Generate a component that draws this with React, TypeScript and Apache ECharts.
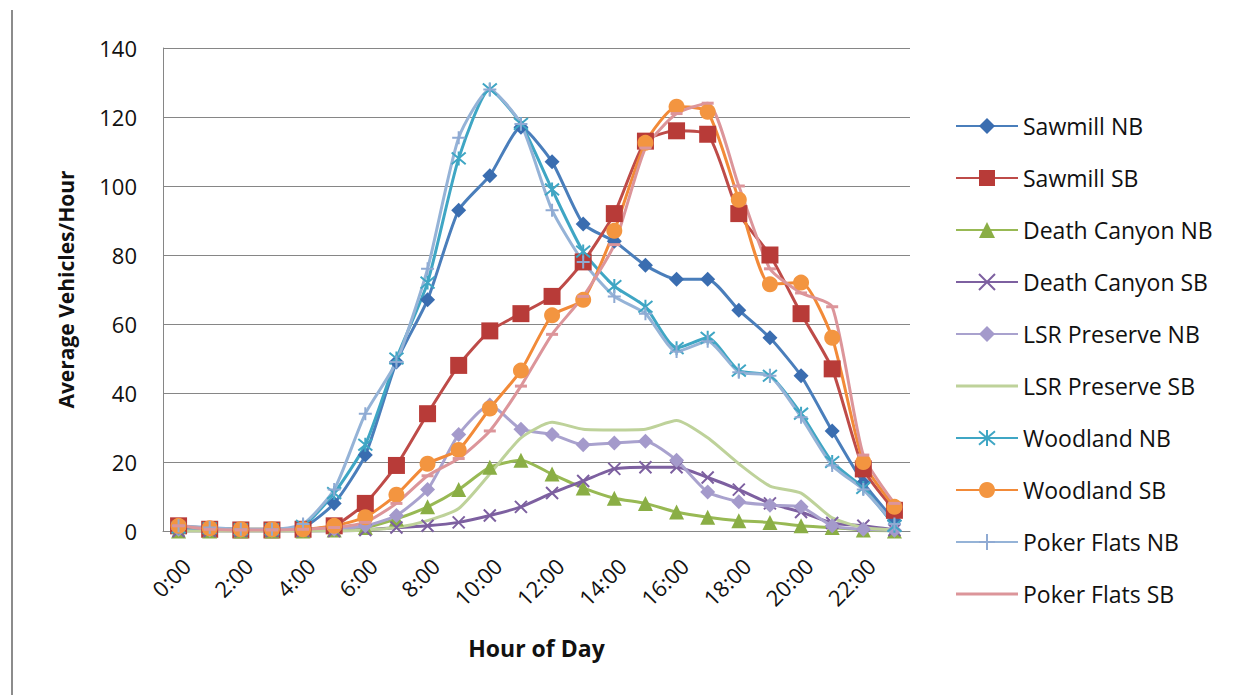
import React, { useEffect, useRef } from "react";
import * as echarts from "echarts";

const hours = ["0:00","1:00","2:00","3:00","4:00","5:00","6:00","7:00","8:00","9:00","10:00","11:00","12:00","13:00","14:00","15:00","16:00","17:00","18:00","19:00","20:00","21:00","22:00","23:00"];

const sawmillNB = [1, 0.5, 0.3, 0.3, 1, 8, 22, 49, 67, 93, 103, 117, 107, 89, 84, 77, 73, 73, 64, 56, 45, 29, 14, 3];
const sawmillSB = [1.5, 0.5, 0.3, 0.3, 0.5, 1.5, 8, 19, 34, 48, 58, 63, 68, 78, 92, 113, 116, 115, 92, 80, 63, 47, 18, 6];
const deathCanyonNB = [0, 0, 0, 0, 0, 0.3, 1, 3.5, 7, 12, 18.5, 20.5, 16.5, 12.5, 9.5, 8, 5.5, 4, 3, 2.5, 1.5, 1, 0.3, 0];
const deathCanyonSB = [0, 0, 0, 0, 0, 0, 0.3, 1, 1.5, 2.5, 4.5, 7, 11, 14.5, 18, 18.5, 18.5, 15.5, 12, 8, 5.5, 2.3, 1.5, 0.3];
const lsrNB = [0.5, 0.3, 0.2, 0.2, 0.3, 0.5, 1.5, 4.5, 12, 28, 36.5, 29.5, 28, 25, 25.5, 26, 20.5, 11.3, 8.5, 7.5, 7, 1.5, 0.5, 0.2];
const lsrSB = [0, 0, 0, 0, 0, 0, 0.3, 1, 3, 6.5, 16.5, 27, 31.5, 29.5, 29.3, 29.5, 32, 27, 19.5, 13, 11, 3.8, 1, 0.3];
const woodlandNB = [1, 0.8, 0.5, 0.5, 1.5, 11, 25, 50, 72, 108, 128, 118, 99, 81, 71, 65, 53, 56, 46.5, 45, 34, 20, 12.5, 1.5];
const woodlandSB = [1.5, 0.8, 0.5, 0.5, 0.5, 1.5, 4, 10.5, 19.5, 23.5, 35.5, 46.5, 62.5, 67, 87, 112.5, 123, 121.5, 96, 71.5, 72, 56, 20, 7];
const pokerNB = [1.5, 1, 0.5, 0.5, 2, 12, 34, 49, 76, 114, 128, 118, 93, 78, 68, 63, 52, 55, 46, 45, 33, 19, 12, 2];
const pokerSB = [1.5, 0.5, 0.3, 0.3, 0.5, 1, 2.5, 8, 16, 21, 29, 42, 57, 68, 83, 111, 121, 124, 100, 76, 69, 65, 22, 8];

const yTicks = { min: 0, max: 140, interval: 20 };

const X_SYM = "path://M0,0L10,10M10,0L0,10";
const STAR_SYM = "path://M0,0L10,10M10,0L0,10M5,-1L5,11";
const PLUS_SYM = "path://M5,0L5,10M0,5L10,5";
const LINE_ICON = "path://M0,0L62,0L62,3L0,3Z";

const seriesDefs = [
  { name: "Sawmill NB", data: sawmillNB, color: "#4A7EBB", mark: "#3A6DB0", symbol: "diamond", size: 15, stroke: false, lineOnly: false },
  { name: "Sawmill SB", data: sawmillSB, color: "#BE4B48", mark: "#B83B38", symbol: "rect", size: 17, stroke: false, lineOnly: false },
  { name: "Death Canyon NB", data: deathCanyonNB, color: "#98B954", mark: "#8AAE45", symbol: "triangle", size: 15, stroke: false, lineOnly: false },
  { name: "Death Canyon SB", data: deathCanyonSB, color: "#7D60A0", mark: "#7D60A0", symbol: X_SYM, size: 12, stroke: true, lineOnly: false },
  { name: "LSR Preserve NB", data: lsrNB, color: "#A9A2CE", mark: "#A49ACB", symbol: "diamond", size: 15, stroke: false, lineOnly: false },
  { name: "LSR Preserve SB", data: lsrSB, color: "#BED29A", mark: "#BED29A", symbol: "none", size: 0, stroke: false, lineOnly: true },
  { name: "Woodland NB", data: woodlandNB, color: "#3FA6C4", mark: "#3FA6C4", symbol: STAR_SYM, size: 14, stroke: true, lineOnly: false },
  { name: "Woodland SB", data: woodlandSB, color: "#F28A38", mark: "#F39540", symbol: "circle", size: 16, stroke: false, lineOnly: false },
  { name: "Poker Flats NB", data: pokerNB, color: "#95B3D7", mark: "#8FAAD3", symbol: PLUS_SYM, size: 13, stroke: true, lineOnly: false },
  { name: "Poker Flats SB", data: pokerSB, color: "#DC959A", mark: "#DC959A", symbol: "rect", size: [12, 3], stroke: false, lineOnly: true },
];

export default function App() {
  const ref = useRef<HTMLDivElement>(null);
  useEffect(() => {
    if (!ref.current) return;
    const chart = echarts.init(ref.current, null, { renderer: "svg" });
    const font = "'Open Sans', 'Noto Sans', sans-serif";
    chart.setOption({
      animation: false,
      backgroundColor: "#ffffff",
      textStyle: { fontFamily: font },
      grid: { left: 163, right: 338, top: 48, bottom: 164, containLabel: false },
      legend: {
        orient: "vertical",
        left: 950,
        top: 109,
        itemWidth: 62,
        itemHeight: 20,
        itemGap: 28,
        textStyle: { fontFamily: font, fontSize: 23, lineHeight: 24, color: "#111" },
        data: seriesDefs.map((s) =>
          s.lineOnly
            ? { name: s.name, icon: LINE_ICON, itemStyle: { color: s.color } }
            : { name: s.name }
        ),
      },
      xAxis: {
        type: "category",
        data: hours,
        boundaryGap: true,
        axisLine: { lineStyle: { color: "#868686", width: 1 } },
        axisTick: { show: false },
        axisLabel: {
          interval: 1,
          rotate: 45,
          align: "right",
          verticalAlign: "top",
          margin: 23,
          fontSize: 22,
          color: "#111",
          fontFamily: font,
        },
        name: "Hour of Day",
        nameLocation: "middle",
        nameGap: 105,
        nameTextStyle: { fontSize: 23, fontWeight: "bold", color: "#111", fontFamily: font },
      },
      yAxis: {
        type: "value",
        min: yTicks.min,
        max: yTicks.max,
        interval: yTicks.interval,
        axisLine: { show: true, lineStyle: { color: "#868686", width: 1 } },
        axisTick: { show: false },
        splitLine: { lineStyle: { color: "#868686", width: 1 } },
        axisLabel: { fontSize: 22, color: "#111", margin: 26, fontFamily: font },
        name: "Average Vehicles/Hour",
        nameLocation: "middle",
        nameGap: 87,
        nameTextStyle: { fontSize: 21, fontWeight: "bold", color: "#111", fontFamily: font },
      },
      graphic: [
        {
          type: "line",
          shape: { x1: 12, y1: 10, x2: 12, y2: 695 },
          style: { stroke: "#8c8c8c", lineWidth: 2 },
        },
      ],
      series: seriesDefs.map((s) => ({
        type: "line",
        name: s.name,
        data: s.data,
        smooth: 0.2,
        symbol: s.symbol,
        symbolSize: s.size,
        showSymbol: s.symbol !== "none",
        showAllSymbol: true,
        lineStyle: { color: s.color, width: 3 },
        itemStyle: s.stroke
          ? { color: s.mark, borderColor: s.mark, borderWidth: 2 }
          : { color: s.mark, borderWidth: 0 },
        emphasis: { disabled: true },
      })),
    });
    return () => chart.dispose();
  }, []);
  return (
    <div
      ref={ref}
      style={{ position: "fixed", left: 0, top: 0, width: 1248, height: 695, background: "#fff" }}
    />
  );
}
